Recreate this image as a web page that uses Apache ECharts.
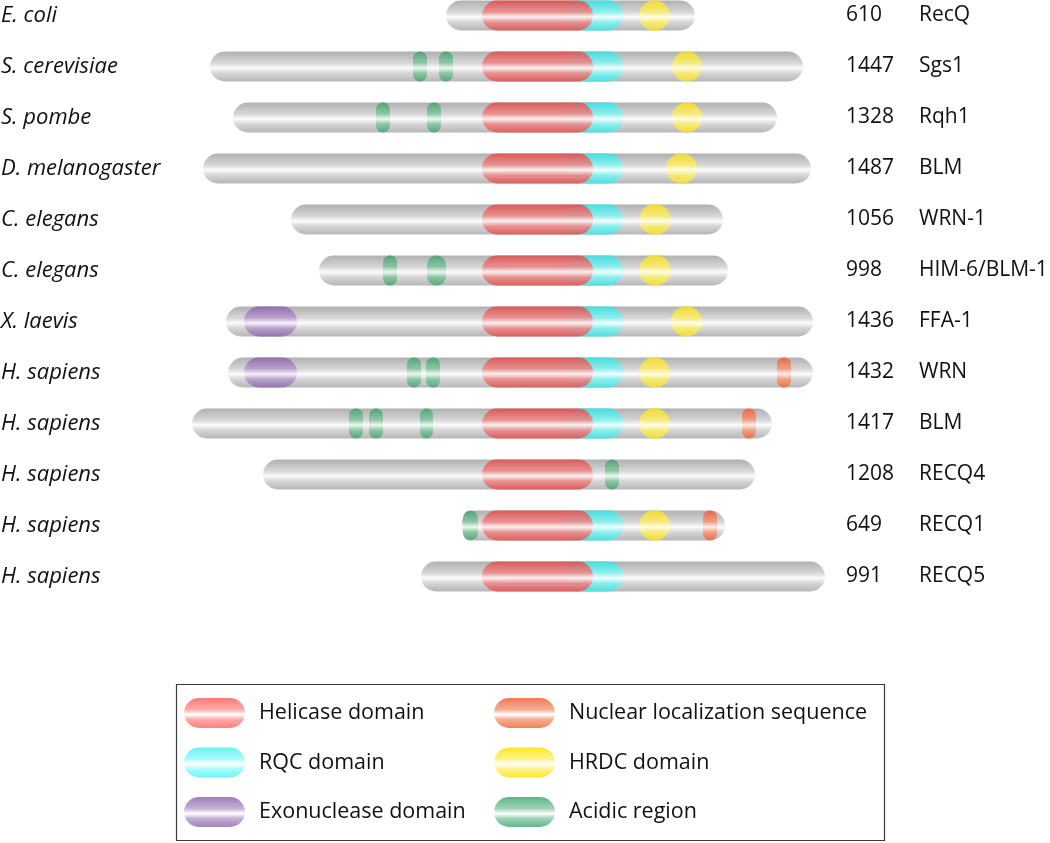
<!DOCTYPE html>
<html>
<head>
<meta charset="utf-8">
<script src="https://cdn.jsdelivr.net/npm/echarts@6/dist/echarts.min.js"></script>
<style>
html,body{margin:0;padding:0;background:#fff;}
#chart{width:1050px;height:843px;}
</style>
</head>
<body>
<div id="chart"></div>
<script>
// ---- data (positions along a common scale, helicase domains aligned) ----
const species = ['E. coli','S. cerevisiae','S. pombe','D. melanogaster','C. elegans','C. elegans','X. laevis','H. sapiens','H. sapiens','H. sapiens','H. sapiens','H. sapiens'];
const lengths = [610,1447,1328,1487,1056,998,1436,1432,1417,1208,649,991];
const proteins = ['RecQ','Sgs1','Rqh1','BLM','WRN-1','HIM-6/BLM-1','FFA-1','WRN','BLM','RECQ4','RECQ1','RECQ5'];
const barStart = [446,210,233,203,291,319,226,228,192,263,461,421];
const barEnd   = [695,803,777,811,723,728,813,813,772,755,725,825];

// domains: [row, start, end]
const helicase = [[0,482,593],[1,482,593],[2,482,593],[3,482,593],[4,482,593],[5,482,593],[6,482,593],[7,482,593],[8,482,593],[9,482,593],[10,482,593],[11,482,593]];
const rqc = [[0,565,623],[1,565,623],[2,565,623],[3,565,623],[4,565,623],[5,565,623],[6,565,623],[7,565,623],[8,565,623],[10,565,623],[11,565,623]];
const exonuclease = [[6,244,297],[7,244,297]];
const nls = [[7,777,791],[8,742,756],[10,703,717]];
const hrdc = [[0,639,670],[1,672,702],[2,672,702],[3,666,697],[4,639,671],[5,639,671],[6,671,702],[7,639,670],[8,639,670],[10,639,670]];
const acidic = [[1,413,427],[1,439,453],[2,376,390],[2,427,441],[5,383,397],[5,427,446],[7,407,421],[7,426,440],[8,349,363],[8,369,383],[8,420,433],[9,605,619],[10,463,478]];

const legendItems = ['Helicase domain','RQC domain','Exonuclease domain','Nuclear localization sequence','HRDC domain','Acidic region'];

// ---- styles ----
function grad(edge, tone, mid, edge2) {
  return {type:'linear', x:0, y:0, x2:0, y2:1, colorStops:[
    {offset:0, color:edge},{offset:0.38, color:tone},{offset:0.55, color:mid},
    {offset:0.72, color:tone},{offset:1, color:edge2 || edge}]};
}
const STY = {
  bar:      grad('#b0b0b0','#d6d6d6','#fcfcfc','#b6b6b6'),
  helicase: grad('#dd5050','#ea8a8a','#fdf0f0','#df5555'),
  rqc:      grad('#48dcdc','#8eeeee','#f2ffff','#50dede'),
  exo:      grad('#9070ad','#b9a2cc','#f7f2fa','#9474b0'),
  nls:      grad('#e46a44','#ef9f85','#fdf0ea','#e6704a'),
  hrdc:     grad('#eeda36','#f5e97a','#fffde6','#efdc3c'),
  acidic:   grad('#52a278','#8cc6a6','#eef8f2','#57a57c')
};
const LEG = {
  'Helicase domain': grad('#ff7878','#ffa8a8','#ffffff','#ff7e7e'),
  'RQC domain': grad('#68f4f4','#a8fafa','#ffffff','#6ef5f5'),
  'Exonuclease domain': grad('#9d7fba','#c4b0d6','#ffffff','#a183bd'),
  'Nuclear localization sequence': grad('#ee7c54','#f6ac90','#ffffff','#f0825a'),
  'HRDC domain': grad('#fae824','#fdf288','#ffffff','#fbea2c'),
  'Acidic region': grad('#5fb389','#9fd2b8','#ffffff','#63b58c')
};

const FONT = '"Open Sans", "Liberation Sans", sans-serif';
const ROWPX = 51, TOPC = 15.5, H = 843;
const yMin = -TOPC / ROWPX;
const yMax = yMin + H / ROWPX;

function capsule(api, fill, opacity) {
  const row = api.value(0), s = api.value(1), e = api.value(2);
  const p1 = api.coord([s, row]), p2 = api.coord([e, row]);
  const h = api.size([0, 1])[1] * 30 / 51;
  const w = p2[0] - p1[0];
  return {
    type:'rect',
    shape:{x:p1[0], y:p1[1]-h/2, width:w, height:h, r:Math.min(w,h)/2},
    style:{fill:fill, opacity: opacity == null ? 1 : opacity}
  };
}

function domainSeries(name, data, fill, opacity) {
  return {
    type:'custom', name:name, coordinateSystem:'cartesian2d',
    encode:{x:[1,2], y:0}, data:data, silent:true, z:3,
    renderItem:(p, api) => capsule(api, fill, opacity)
  };
}

const rowData = species.map((s, i) => [i, barStart[i], barEnd[i]]);

const chart = echarts.init(document.getElementById('chart'), null, {renderer:'canvas'});

// legend graphics
const legendChildren = [{
  type:'rect', shape:{x:176.5, y:684.5, width:708, height:156},
  style:{fill:'#fff', stroke:'#3a3a3a', lineWidth:1.2}
}];
legendItems.forEach((name, k) => {
  const col = Math.floor(k / 3), r = k % 3;
  const ix = col === 0 ? 184 : 494;
  const cy = 713 + r * 49.5;
  legendChildren.push({type:'rect', shape:{x:ix, y:cy-15, width:61, height:30, r:15}, style:{fill:LEG[name]}});
  legendChildren.push({type:'text', style:{text:name, x:ix+75, y:cy, font:'21.5px ' + FONT, fill:'#111', align:'left', verticalAlign:'middle'}});
});

chart.setOption({
  animation:false,
  grid:{left:0, right:0, top:0, bottom:0},
  xAxis:{type:'value', min:0, max:1050, show:false},
  yAxis:{type:'value', inverse:true, min:yMin, max:yMax, show:false},
  series:[
    {
      type:'custom', name:'protein', coordinateSystem:'cartesian2d',
      encode:{x:[1,2], y:0}, data:rowData, silent:true, z:1,
      renderItem:(p, api) => {
        const i = api.value(0);
        const c = api.coord([0, i]);
        const bar = capsule(api, STY.bar);
        return {type:'group', children:[
          bar,
          {type:'text', style:{text:species[i], x:1, y:c[1], font:'italic 22px ' + FONT, fill:'#111', align:'left', verticalAlign:'middle'}},
          {type:'text', style:{text:String(lengths[i]), x:846, y:c[1], font:'21px ' + FONT, fill:'#111', align:'left', verticalAlign:'middle'}},
          {type:'text', style:{text:proteins[i], x:919, y:c[1], font:'21px ' + FONT, fill:'#111', align:'left', verticalAlign:'middle'}}
        ]};
      }
    },
    domainSeries('RQC domain', rqc, STY.rqc),
    domainSeries('Helicase domain', helicase, STY.helicase, 0.9),
    domainSeries('Exonuclease domain', exonuclease, STY.exo),
    domainSeries('Nuclear localization sequence', nls, STY.nls),
    domainSeries('HRDC domain', hrdc, STY.hrdc),
    domainSeries('Acidic region', acidic, STY.acidic)
  ],
  graphic:[{type:'group', children:legendChildren}]
});
</script>
</body>
</html>
